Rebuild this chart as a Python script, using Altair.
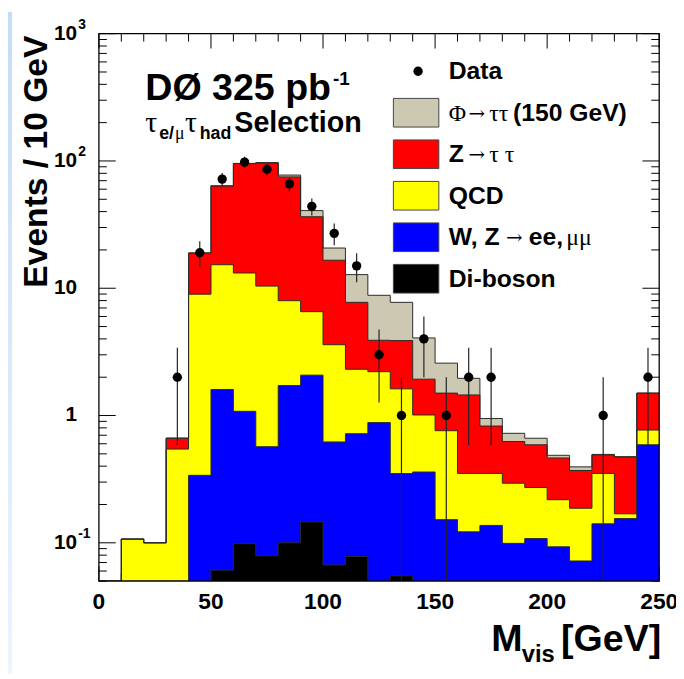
import math
import altair as alt
import pandas as pd

# ---------------- data ----------------
bin_low = [0, 10, 20, 30, 40, 50, 60, 70, 80, 90, 100, 110, 120, 130, 140,
           150, 160, 170, 180, 190, 200, 210, 220, 230, 240]
diboson = [0, 0, 0, 0, 0, 0.061, 0.099, 0.079, 0.100, 0.146, 0.067, 0.078, 0,
           0.055, 0, 0, 0, 0, 0, 0, 0, 0, 0, 0, 0]
wz = [0, 0, 0, 0, 0.339, 1.54, 0.98, 0.49, 1.62, 1.93, 0.553, 0.642, 0.88,
      0.295, 0.36, 0.152, 0.122, 0.137, 0.099, 0.108, 0.093, 0.072, 0.141,
      0.155, 0.589]
qcd = [0, 0.107, 0.100, 0.545, 8.64, 13.7, 12.1, 9.83, 6.26, 4.47, 2.98, 1.59,
       1.33, 1.27, 0.65, 0.608, 0.229, 0.214, 0.195, 0.164, 0.125, 0.115, 0.21,
       0.014, 0.18]
ztt = [0, 0, 0, 0.119, 9.92, 48.3, 82.1, 85.9, 67.0, 29.9, 13.0, 5.44, 1.69,
       2.26, 0.92, 0.74, 1.10, 0.476, 0.331, 0.317, 0.246, 0.183, 0.139, 0.303,
       0.731]
phi = [0, 0, 0, 0, 0.05, 0.2, 0.4, 0.8, 2.5, 4.3, 4.1, 5.05, 4.9, 3.87, 2.14,
       1.08, 0.51, 0.12, 0.10, 0.074, 0.023, 0.025, 0.005, 0.003, 0]
data_n = [0, 0, 0, 2, 19, 72, 98, 86, 66, 44, 27, 15, 3, 1, 4, 1, 2, 2, 0, 0,
          0, 0, 1, 0, 2]

x_tick_labels = [0, 50, 100, 150, 200, 250]
y_tick_values = [0.1, 1, 10, 100, 1000]
y_tick_base = ["10", "1", "10", "10", "10"]
y_tick_exp = ["-1", "", "", "2", "3"]

# ---------------- layout / style ----------------
W, H = 567, 554
FLOOR = 0.05
BIN = 10
SANS = "Liberation Sans, Arial, Helvetica, sans-serif"
SERIF = "Liberation Serif, DejaVu Serif, serif"
ARROW = "DejaVu Serif, serif"
xs = alt.Scale(domain=[0, 250], nice=False, zero=False)
ys = alt.Scale(type="log", domain=[FLOOR, 1000], nice=False)
one = pd.DataFrame({"a": [0]})

comps = [("Di-boson", diboson, "#000000"), ("W/Z", wz, "#0000ff"),
         ("QCD", qcd, "#ffff00"), ("Ztt", ztt, "#ff0000"),
         ("Phi", phi, "#cdc8b1")]

cums = []
run = [0.0] * len(bin_low)
for name, vals, col in comps:
    run = [r + v for r, v in zip(run, vals)]
    cums.append((name, list(run), col))

layers = []

# white panel + left gradient strip (page decoration)
layers.append(alt.Chart(one).mark_rect(color="white").encode(
    x=alt.value(-88), x2=alt.value(W + 40), y=alt.value(-30), y2=alt.value(H + 120)))
layers.append(alt.Chart(one).mark_rect(color=alt.Gradient(
    gradient="linear", x1=0, x2=0, y1=0, y2=1,
    stops=[alt.GradientStop(color="#c3dcf8", offset=0),
           alt.GradientStop(color="#eef5fd", offset=1)])).encode(
    x=alt.value(-92), x2=alt.value(-88), y=alt.value(-22), y2=alt.value(H + 120)))

# inward ticks (drawn beneath the histograms)
y_major = y_tick_values
y_minor = [m * 10 ** k for k in range(-2, 3) for m in range(2, 10)
           if FLOOR <= m * 10 ** k < 1000]
x_major = x_tick_labels
x_minor = [v for v in range(10, 250, 10) if v % 50]
for vals, ln in [(y_major, 17), (y_minor, 8)]:
    d = pd.DataFrame({"v": vals})
    layers.append(alt.Chart(d).mark_rule(color="black", strokeWidth=1).encode(
        y=alt.Y("v:Q", scale=ys, axis=None), x=alt.value(0), x2=alt.value(ln)))
    layers.append(alt.Chart(d).mark_rule(color="black", strokeWidth=1).encode(
        y=alt.Y("v:Q", scale=ys, axis=None), x=alt.value(W), x2=alt.value(W - ln)))
for vals, ln in [(x_major, 15), (x_minor, 8)]:
    d = pd.DataFrame({"v": vals})
    layers.append(alt.Chart(d).mark_rule(color="black", strokeWidth=1).encode(
        x=alt.X("v:Q", scale=xs, axis=None), y=alt.value(0), y2=alt.value(ln)))
    layers.append(alt.Chart(d).mark_rule(color="black", strokeWidth=1).encode(
        x=alt.X("v:Q", scale=xs, axis=None), y=alt.value(H), y2=alt.value(H - ln)))


def step_df(cum):
    xs_ = bin_low + [bin_low[-1] + BIN]
    ys_ = [max(c, FLOOR) for c in cum] + [max(cum[-1], FLOOR)]
    return pd.DataFrame({"x": xs_, "y": ys_, "base": [FLOOR] * len(xs_)})


# filled stacks: total first, then each lower cumulative on top
for name, cum, col in reversed(cums):
    layers.append(alt.Chart(step_df(cum)).mark_area(
        interpolate="step-after", fill=col, stroke=None, clip=True, opacity=1).encode(
        x=alt.X("x:Q", scale=xs, axis=None),
        y=alt.Y("y:Q", scale=ys, axis=None, stack=None),
        y2=alt.Y2("base:Q")))
for name, cum, col in reversed(cums):
    layers.append(alt.Chart(step_df(cum)).mark_line(
        interpolate="step-after", color="#2a2a2a", strokeWidth=1, clip=True).encode(
        x=alt.X("x:Q", scale=xs, axis=None),
        y=alt.Y("y:Q", scale=ys, axis=None)))

# frame
layers.append(alt.Chart(one).mark_rect(fillOpacity=0, stroke="black", strokeWidth=1.3).encode(
    x=alt.value(0), x2=alt.value(W), y=alt.value(0), y2=alt.value(H)))

# data points with sqrt(N) errors
pts = pd.DataFrame({"x": [b + BIN / 2 for b in bin_low], "n": data_n})
pts = pts[pts["n"] > 0].copy()
pts["lo"] = [max(n - math.sqrt(n), FLOOR) for n in pts["n"]]
pts["hi"] = [n + math.sqrt(n) for n in pts["n"]]
layers.append(alt.Chart(pts).mark_rule(color="#222222", strokeWidth=1.2, clip=True).encode(
    x=alt.X("x:Q", scale=xs, axis=None), y=alt.Y("lo:Q", scale=ys, axis=None), y2="hi:Q"))
layers.append(alt.Chart(pts).mark_circle(color="black", size=90, opacity=1).encode(
    x=alt.X("x:Q", scale=xs, axis=None), y=alt.Y("n:Q", scale=ys, axis=None)))


def txt(s, x, y, size, bold=True, font=SANS, align="left", baseline="alphabetic", angle=0):
    return alt.Chart(one).mark_text(
        text=s, font=font, fontSize=size, fontWeight="bold" if bold else "normal",
        align=align, baseline=baseline, angle=angle, color="black").encode(
        x=alt.value(x), y=alt.value(y))


# axis tick labels
xl = pd.DataFrame({"v": x_tick_labels, "t": [str(v) for v in x_tick_labels]})
layers.append(alt.Chart(xl).mark_text(font=SANS, fontSize=23, fontWeight="bold",
                                      baseline="alphabetic", color="black").encode(
    x=alt.X("v:Q", scale=xs, axis=None), y=alt.value(H + 28), text="t:N"))
yl = pd.DataFrame({"v": y_tick_values, "b": y_tick_base, "e": y_tick_exp})
layers.append(alt.Chart(yl).mark_text(font=SANS, fontSize=21, fontWeight="bold",
                                      align="right", baseline="middle", color="black").encode(
    y=alt.Y("v:Q", scale=ys, axis=None), x=alt.value(-22), text="b:N"))
layers.append(alt.Chart(yl).mark_text(font=SANS, fontSize=14, fontWeight="bold",
                                      align="left", baseline="middle", dy=-9, color="black").encode(
    y=alt.Y("v:Q", scale=ys, axis=None), x=alt.value(-21), text="e:N"))

# axis titles
layers.append(txt("Events / 10 GeV", -53, 2, 34, align="right", angle=270))
layers.append(txt("M", 397, 625, 38))
layers.append(txt("vis", 428, 636, 24))
layers.append(txt("[GeV]", 569, 625, 38, align="right"))

# experiment labels
layers.append(txt("DØ 325 pb", 47, 67, 38))
layers.append(txt("-1", 237, 52, 19))
layers.append(txt("τ", 47, 99, 30, bold=False, font=SERIF))
layers.append(txt("e/", 61, 107, 18))
layers.append(txt("μ", 77, 107, 18, bold=False, font=SERIF))
layers.append(txt("τ", 87, 99, 30, bold=False, font=SERIF))
layers.append(txt("had", 102, 107, 18))
layers.append(txt("Selection", 137, 99, 29))

# legend
row_y = [38, 80, 122, 164, 206, 248]
box_cols = ["#cdc8b1", "#ff0000", "#ffff00", "#0000ff", "#000000"]
layers.append(alt.Chart(one).mark_circle(color="black", size=90, opacity=1).encode(
    x=alt.value(323), y=alt.value(row_y[0])))
for ry, col in zip(row_y[1:], box_cols):
    layers.append(alt.Chart(one).mark_rect(fill=col, stroke="#444444", strokeWidth=1).encode(
        x=alt.value(298), x2=alt.value(344), y=alt.value(ry - 14.5), y2=alt.value(ry + 14.5)))
LF = 25
# (text, x, kind) kind: "b" bold sans, "g" greek serif, "a" arrow
legend_segments = [
    [("Data", 354, "b")],
    [("Φ", 354, "g"), ("→", 374, "a"), ("ττ", 395, "g"), ("(150 GeV)", 419, "b")],
    [("Z", 354, "b"), ("→", 374, "a"), ("τ τ", 395, "g")],
    [("QCD", 354, "b")],
    [("W, Z", 354, "b"), ("→", 412, "a"), ("ee,", 435, "b"), ("μμ", 473, "g")],
    [("Di-boson", 354, "b")],
]
for ry, segs in zip(row_y, legend_segments):
    for s, x, k in segs:
        if k == "b":
            layers.append(txt(s, x, ry, LF, baseline="middle"))
        elif k == "g":
            layers.append(txt(s, x, ry + 1, LF - 1, bold=False, font=SERIF, baseline="middle"))
        else:
            layers.append(txt(s, x, ry + 1, 20, bold=False, font=ARROW, baseline="middle"))

chart = alt.layer(*layers).properties(
    width=W, height=H,
    padding={"left": 92, "top": 22, "right": 17, "bottom": 90},
    autosize=alt.AutoSizeParams(type="none"),
    background="white",
).configure_view(stroke=None)

chart.save("out.html", embed_options={"renderer": "svg", "actions": False})
